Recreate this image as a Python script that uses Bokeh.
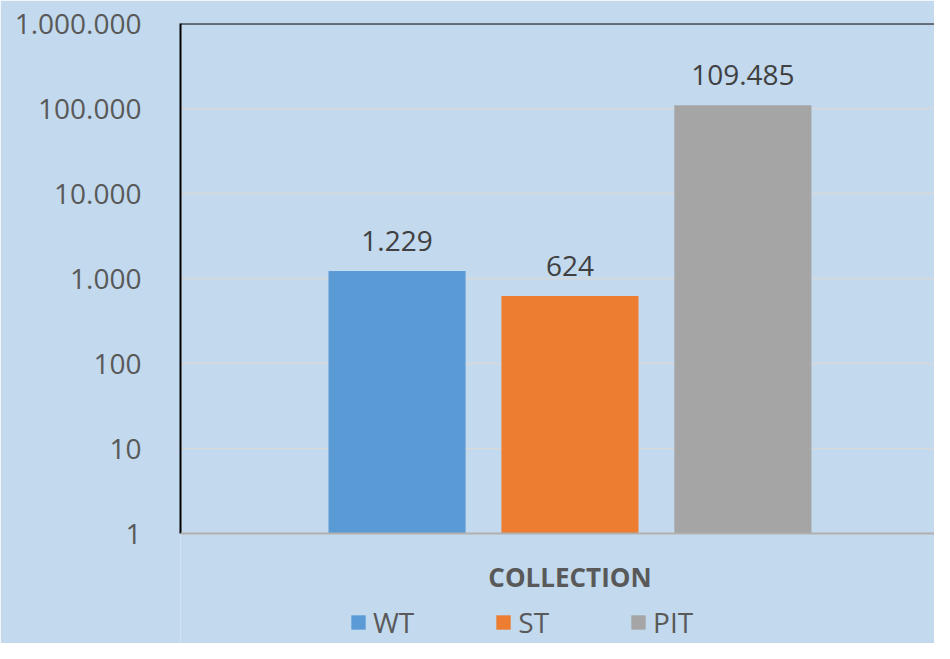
from bokeh.plotting import figure
from bokeh.models import (Range1d, FixedTicker, CustomJSTickFormatter, Span,
                          Legend, LegendItem, ColumnDataSource, LabelSet, Label)
from bokeh.core.properties import value
from bokeh.embed import file_html
from bokeh.resources import INLINE

# ---- data ----
categories = ["WT", "ST", "PIT"]
values = [1229, 624, 109485]
value_labels = ["1.229", "624", "109.485"]
colors = ["#5b9bd5", "#ed7d31", "#a5a5a5"]
group_label = "COLLECTION"
y_ticks = [1, 10, 100, 1000, 10000, 100000, 1000000]

BG = "#c2d9ee"
W, H = 934, 643
TOP_PAD = 23
DECADE_PX = 85
frame_h = H - TOP_PAD
y_min = 10 ** (6 - frame_h / DECADE_PX)   # frame extends below 1 to host axis title and legend

# dodge offsets within the single category (bar width 0.176, step 0.222)
step = 0.222
bar_w = 0.176
offsets = [(i - (len(categories) - 1) / 2) * step for i in range(len(categories))]

p = figure(width=W, height=H, y_axis_type="log", output_backend="svg",
           toolbar_location=None, x_range=Range1d(-0.5, 0.468),
           y_range=Range1d(y_min, 1e6), x_axis_location=None,
           min_border_left=180, min_border_top=TOP_PAD, min_border_right=0,
           min_border_bottom=0)
p.background_fill_color = BG
p.border_fill_color = BG
p.outline_line_color = None

src = ColumnDataSource(dict(x=offsets, top=values, cat=categories,
                            color=colors, lab=value_labels))

p.xgrid.grid_line_color = None
p.ygrid.ticker = FixedTicker(ticks=y_ticks)
p.ygrid.grid_line_color = "#d9d9d9"
p.ygrid.grid_line_width = 1.5

renderers = []
for i, c in enumerate(categories):
    r = p.vbar(x=[offsets[i]], top=[values[i]], bottom=1, width=bar_w,
               fill_color=colors[i], line_color=None)
    renderers.append(r)

labels = LabelSet(x="x", y="top", text="lab", source=src, text_align="center",
                  text_baseline="bottom", y_offset=20, text_font=value("Open Sans"),
                  text_font_size=value("28px"), text_color=value("#404040"))
p.add_layout(labels)

# y axis
yax = p.yaxis[0]
yax.ticker = FixedTicker(ticks=y_ticks)
yax.bounds = (1, 1e6)
yax.formatter = CustomJSTickFormatter(code="""
return Math.round(tick).toString().replace(/\\B(?=(\\d{3})+(?!\\d))/g, '.');
""")
yax.major_label_text_font = "Open Sans"
yax.major_label_text_font_size = "28px"
yax.major_label_text_color = "#595959"
yax.major_tick_line_color = None
yax.minor_tick_line_color = None
yax.axis_line_color = "black"
yax.axis_line_width = 2
yax.major_label_standoff = 33

# category axis line and title
p.add_layout(Span(location=1, dimension="width", line_color="#b0b0b0", line_width=2))
p.add_layout(Span(location=1e6, dimension="width", line_color="black", line_width=2))
p.add_layout(Label(x=0, y=67, y_units="screen", text=group_label,
                   text_align="center", text_baseline="middle",
                   text_font="Open Sans", text_font_style="bold",
                   text_font_size="26px", text_color="#595959"))

legend = Legend(items=[LegendItem(label=c, renderers=[renderers[i]]) for i, c in enumerate(categories)],
                orientation="horizontal", location=(169, 2),
                label_text_font="Open Sans", label_text_font_size="28px",
                label_text_color="#595959", glyph_width=18, glyph_height=18,
                label_standoff=6, spacing=80, padding=0, margin=0,
                border_line_color=None, background_fill_alpha=0)
p.add_layout(legend)

open("out.html", "w").write(file_html(p, INLINE))
